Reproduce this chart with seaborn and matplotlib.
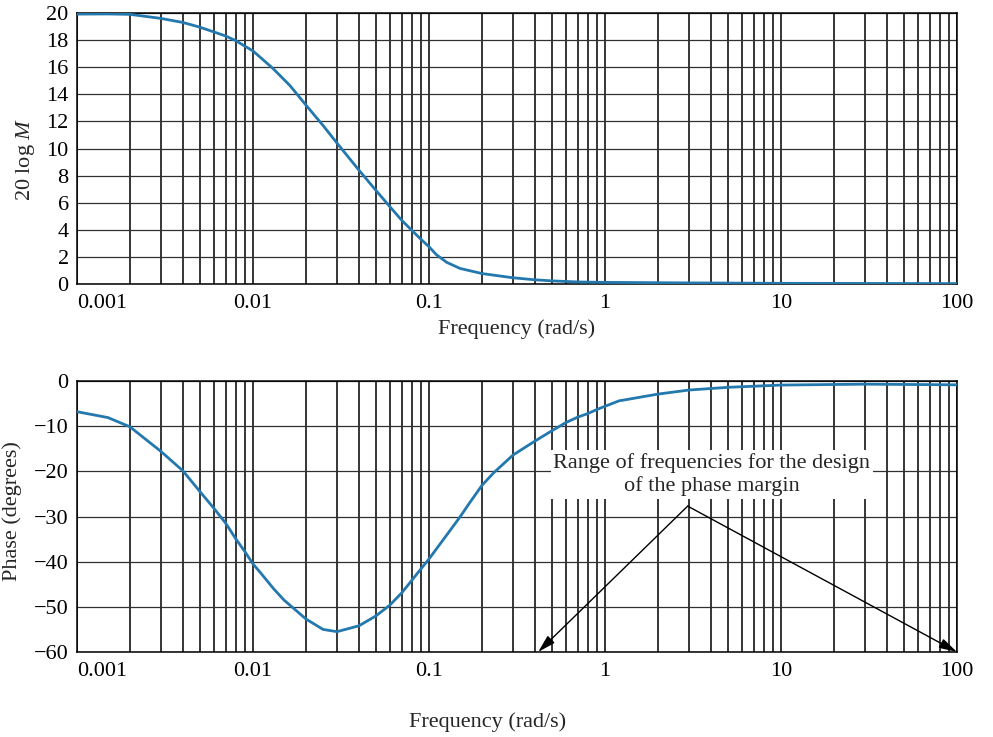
import numpy as np
import pandas as pd
import matplotlib
matplotlib.use('Agg')
import matplotlib.pyplot as plt
from matplotlib.ticker import FixedLocator, LogLocator, NullFormatter
import seaborn as sns

# ── data ────────────────────────────────────────────────
freq_mag = [0.001, 0.0015, 0.002, 0.003, 0.004, 0.005, 0.006, 0.007, 0.008, 0.009,
            0.01, 0.013, 0.0162, 0.02, 0.025, 0.03, 0.04, 0.05, 0.06, 0.07, 0.08,
            0.09, 0.1, 0.11, 0.126, 0.15, 0.2, 0.3, 0.4, 0.5, 0.7, 1, 3, 10, 30, 100]
mag_db = [19.92, 19.93, 19.9, 19.6, 19.3, 18.95, 18.6, 18.3, 17.95, 17.55,
          17.2, 15.9, 14.65, 13.2, 11.7, 10.4, 8.4, 6.9, 5.7, 4.7, 3.95,
          3.3, 2.75, 2.17, 1.6, 1.15, 0.77, 0.46, 0.31, 0.23, 0.15, 0.12, 0.08, 0.05, 0.04, 0.03]

freq_phase = [0.001, 0.0015, 0.002, 0.003, 0.004, 0.005, 0.006, 0.007, 0.008,
              0.009, 0.01, 0.011, 0.0131, 0.015, 0.02, 0.025, 0.03, 0.04, 0.05,
              0.06, 0.07, 0.08, 0.09, 0.1, 0.1155, 0.1317, 0.15, 0.17, 0.2, 0.232,
              0.3, 0.4, 0.5, 0.6, 0.7, 0.8, 0.9, 1, 1.2, 2, 3, 5, 10, 30, 100]
phase_deg = [-6.8, -8.1, -10.15, -15.6, -19.9, -24.5, -28.2, -31.5, -35.0,
             -37.8, -40.5, -42.4, -46.0, -48.5, -52.7, -55.0, -55.5, -54.2, -52.0,
             -49.6, -46.9, -44.1, -41.6, -39.4, -36.1, -33.1, -30.1, -27.0, -23.1, -20.4,
             -16.4, -13.3, -11.0, -9.2, -8.0, -7.2, -6.3, -5.6, -4.4, -2.9, -2.0, -1.4,
             -0.9, -0.7, -0.85]

x_ticks = [0.001, 0.01, 0.1, 1, 10, 100]
x_ticklabels = ['0.001', '0.01', '0.1', '1', '10', '100']
mag_ticks = list(range(0, 21, 2))
phase_ticks = list(range(-60, 1, 10))

note_text = 'Range of frequencies for the design\nof the phase margin'
note_pos = (4.05, -20.7)
arrow_apex = (2.95, -27.7)
arrow_tips = [(0.417, -60), (100, -60)]

LINE = '#2378ae'
FS = 16

sns.set_theme(style='white')
plt.rcParams['font.family'] = ['Liberation Serif', 'DejaVu Serif']
plt.rcParams['mathtext.fontset'] = 'custom'
plt.rcParams['mathtext.rm'] = 'Liberation Serif'
plt.rcParams['mathtext.it'] = 'Liberation Serif:italic'
plt.rcParams['axes.unicode_minus'] = True

df_mag = pd.DataFrame({'freq': freq_mag, 'mag': mag_db})
df_ph = pd.DataFrame({'freq': freq_phase, 'phase': phase_deg})

fig = plt.figure(figsize=(9.93, 7.37), dpi=100)
ax1 = fig.add_axes([77 / 993, 1 - 284 / 737, 880 / 993, 271 / 737])
ax2 = fig.add_axes([77 / 993, 1 - 652 / 737, 880 / 993, 271 / 737])

sns.lineplot(data=df_mag, x='freq', y='mag', ax=ax1, color=LINE, linewidth=2.0, zorder=5)
sns.lineplot(data=df_ph, x='freq', y='phase', ax=ax2, color=LINE, linewidth=2.0, zorder=5)

for ax, yt in [(ax1, mag_ticks), (ax2, phase_ticks)]:
    ax.set_xscale('log')
    ax.set_xlim(0.001, 100)
    ax.set_ylim(yt[0], yt[-1])
    ax.xaxis.set_major_locator(FixedLocator(x_ticks))
    ax.set_xticklabels(x_ticklabels)
    ax.xaxis.set_minor_locator(LogLocator(base=10, subs=range(2, 10)))
    ax.xaxis.set_minor_formatter(NullFormatter())
    ax.set_yticks(yt)
    ax.tick_params(axis='both', which='both', length=0, labelsize=FS, colors='black')
    ax.tick_params(axis='x', pad=7)
    ax.tick_params(axis='y', pad=6)
    ax.grid(True, which='both', axis='x', color='black', linewidth=1.1)
    ax.grid(True, which='major', axis='y', color='#303030', linewidth=0.9)
    ax.set_axisbelow(True)
    for s in ax.spines.values():
        s.set_color('black')
        s.set_linewidth(1.1)
    ax.get_xticklabels()[0].set_horizontalalignment('left')

ax1.set_xlabel('Frequency (rad/s)', fontsize=FS)
ax1.set_ylabel('20 log $M$', fontsize=FS)
ax1.xaxis.set_label_coords(0.5, -0.13)
ax1.yaxis.set_label_coords(-0.046, 0.46)

ax2.set_xlabel('Frequency (rad/s)', fontsize=FS)
ax2.set_ylabel('Phase (degrees)', fontsize=FS)
ax2.xaxis.set_label_coords(0.466, -0.222)
ax2.yaxis.set_label_coords(-0.063, 0.52)

ax2.text(note_pos[0], note_pos[1], note_text, ha='center', va='center',
         multialignment='center', fontsize=FS, zorder=6, linespacing=1.25,
         bbox=dict(facecolor='white', edgecolor='none', pad=2))
for tip in arrow_tips:
    ax2.annotate('', xy=tip, xytext=arrow_apex, zorder=7, annotation_clip=False,
                 arrowprops=dict(arrowstyle='-|>,head_length=0.9,head_width=0.25',
                                 color='black', lw=1.0, shrinkA=0, shrinkB=0))

fig.savefig('out.png', dpi=100)
